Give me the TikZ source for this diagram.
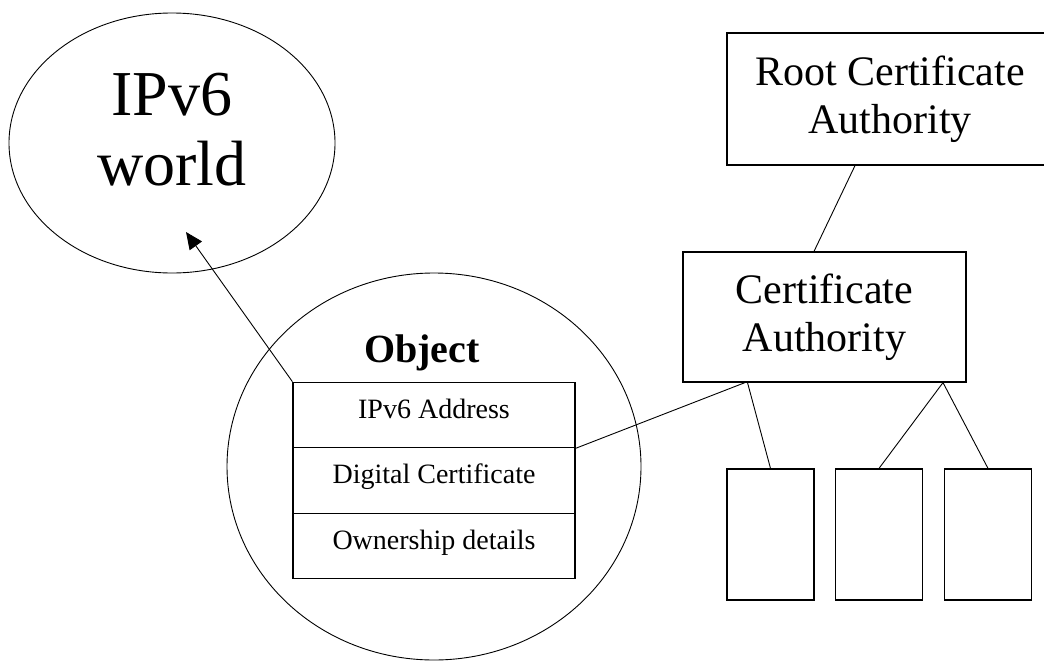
\documentclass[tikz,border=0pt]{standalone}
\usepackage{fontspec}
\setmainfont{Liberation Serif}
\usetikzlibrary{arrows.meta,shapes.geometric}
\begin{document}
\begin{tikzpicture}[x=1pt,y=-1pt,
  boxline/.style={draw, rectangle, line width=1.2pt, inner sep=0pt},
  bubble/.style={draw, ellipse, line width=0.9pt, inner sep=0pt},
  conn/.style={line width=0.9pt},
  rowbox/.style={boxline, minimum width=282pt, minimum height=65.5pt,
    font=\fontsize{28}{33}\selectfont, text height=14pt, text depth=8pt},
  leafbox/.style={boxline, minimum width=87pt, minimum height=131pt},
  cabox/.style={boxline, align=center, font=\fontsize{42}{48}\selectfont}]
\useasboundingbox (0,0) rectangle (1044,661);
\clip (0,0) rectangle (1044,661);
\fill[white] (0,0) rectangle (1044,661);

% IPv6 world
\node[bubble, minimum width=326pt, minimum height=260pt] (world) at (172,143) {};
\node[align=center, inner sep=0pt, font=\fontsize{64}{70}\selectfont] (worldlabel) at (172,129.5) {IPv6\\world};

% Object
\node[bubble, minimum width=414pt, minimum height=387pt] (objring) at (434,466.5) {};
\node[anchor=base, inner sep=0pt, font=\fontsize{40}{48}\selectfont\bfseries] (objtitle) at (422,362) {Object};
\node[rowbox] (addr) at (434,415) {IPv6 Address};
\node[rowbox] (cert) at (434,480.5) {Digital Certificate};
\node[rowbox] (owner) at (434,546) {Ownership details};

% Authorities
\node[cabox, minimum width=326pt, minimum height=132pt] (root) at (890,99) {Root Certificate\\Authority};
\node[cabox, minimum width=283pt, minimum height=130pt] (ca) at (824.5,317) {Certificate\\Authority};

% Leaves
\node[leafbox] (leaf1) at (770.5,534.5) {};
\node[leafbox] (leaf2) at (879,534.5) {};
\node[leafbox] (leaf3) at (988,534.5) {};

% Connectors
\draw[conn] ([xshift=-35pt]root.south) -- ([xshift=-10.5pt]ca.north);
\draw[conn] ([xshift=-79.5pt]ca.south) -- (addr.south east);
\draw[conn] ([xshift=-77pt]ca.south) -- (leaf1.north);
\draw[conn] ([xshift=118.5pt]ca.south) -- (leaf2.north);
\draw[conn] ([xshift=118.5pt]ca.south) -- (leaf3.north);
\coordinate (tip) at (186,232);
\draw[conn, -{Triangle[length=17pt,width=15pt]}] (addr.north west) -- (tip);
\end{tikzpicture}
\end{document}
